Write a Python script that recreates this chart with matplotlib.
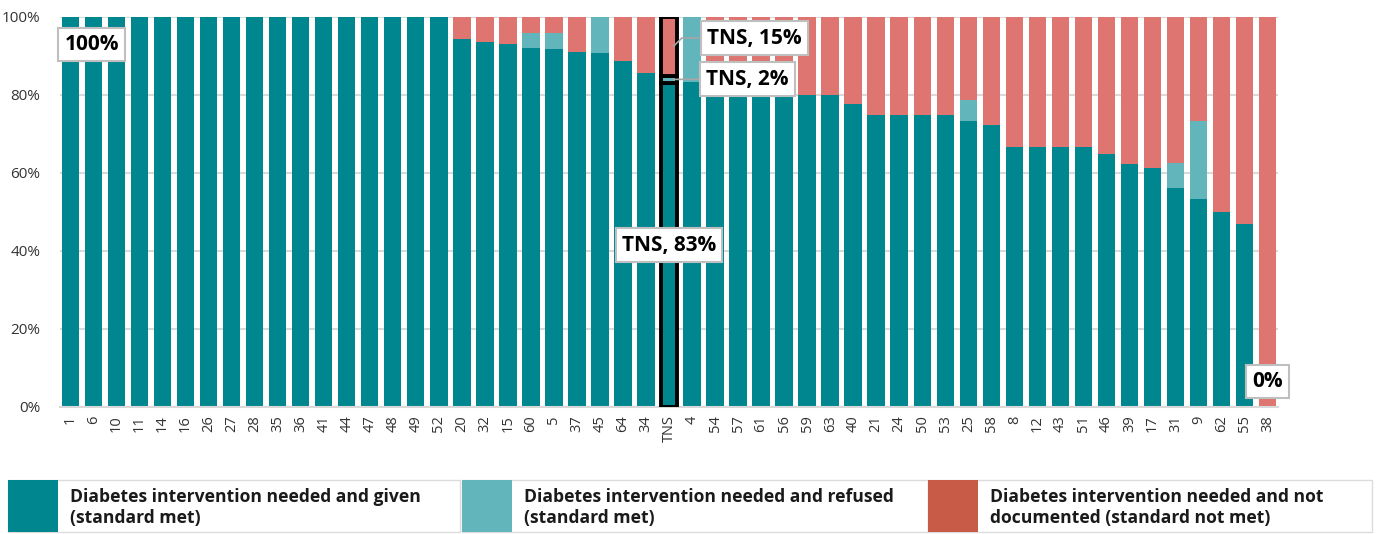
import matplotlib
matplotlib.use("Agg")
import matplotlib.pyplot as plt
from matplotlib.patches import Rectangle
import numpy as np

plt.rcParams['font.family'] = ['Open Sans', 'DejaVu Sans']

# Hospital codes, ordered by share of patients who received the intervention
sites = ["1", "6", "10", "11", "14", "16", "26", "27", "28", "35", "36", "41", "44",
         "47", "48", "49", "52", "20", "32", "15", "60", "5", "37", "45", "64", "34",
         "TNS", "4", "54", "57", "61", "56", "59", "63", "40", "21", "24", "50", "53",
         "25", "58", "8", "12", "43", "51", "46", "39", "17", "31", "9", "62", "55", "38"]

# Percent of patients: intervention needed and given
given = [100, 100, 100, 100, 100, 100, 100, 100, 100, 100, 100, 100, 100,
         100, 100, 100, 100, 94.4, 93.5, 93.1, 92.0, 91.7, 91.0, 90.7, 88.7, 85.7,
         83, 83.3, 80, 80, 80, 80, 80, 80, 77.8, 75, 75, 75, 75,
         73.4, 72.4, 66.7, 66.7, 66.7, 66.7, 64.8, 62.2, 61.4, 56.1, 53.3, 50, 46.8, 0]

# Percent of patients: intervention needed and refused
refused = [0, 0, 0, 0, 0, 0, 0, 0, 0, 0, 0, 0, 0,
           0, 0, 0, 0, 0, 0, 0, 4.0, 4.2, 0, 9.3, 0, 0,
           2, 16.7, 0, 0, 0, 0, 0, 0, 0, 0, 0, 0, 0,
           5.3, 0, 0, 0, 0, 0, 0, 0, 0, 6.4, 20.0, 0, 0, 0]

given = np.array(given)
refused = np.array(refused)
not_documented = 100 - given - refused

legend_labels = ["Diabetes intervention needed and given\n(standard met)",
                 "Diabetes intervention needed and refused\n(standard met)",
                 "Diabetes intervention needed and not\ndocumented (standard not met)"]

C_GIVEN = "#00868f"
C_REFUSED = "#63b5bc"
C_NOTDOC = "#de7571"
C_NOTDOC_KEY = "#c75b48"

W, H = 1384, 534
fig = plt.figure(figsize=(W / 100, H / 100), dpi=100)
ax = fig.add_axes([60 / W, 1 - 407 / H, (1278 - 60) / W, (407 - 17) / H])

x = np.arange(len(sites))
bw = 0.76
ax.bar(x, given, width=bw, color=C_GIVEN, zorder=2)
ax.bar(x, refused, bottom=given, width=bw, color=C_REFUSED, zorder=2)
ax.bar(x, not_documented, bottom=given + refused, width=bw, color=C_NOTDOC, zorder=2)

# Outline the national (TNS) bar
t = sites.index("TNS")
for bottom, h, c in [(0, given[t], C_GIVEN),
                     (given[t], refused[t], C_REFUSED),
                     (given[t] + refused[t], not_documented[t], C_NOTDOC)]:
    ax.bar(t, h, bottom=bottom, width=bw - 0.08, color=c, edgecolor="black",
           linewidth=2.8, zorder=3)

ax.set_xlim(-0.45, len(sites) - 0.55)
ax.set_ylim(0, 100)
ax.set_yticks(np.arange(0, 101, 20))
ax.set_yticklabels([f"{v}%" for v in range(0, 101, 20)])
ax.set_xticks(x)
ax.set_xticklabels(sites, rotation=90)
ax.tick_params(axis="y", length=0, labelsize=11, labelcolor="#333333", pad=14)
ax.tick_params(axis="x", length=0, labelsize=10.5, labelcolor="#333333", pad=6)
ax.yaxis.grid(True, color="#d9d9d9", linewidth=1.5, zorder=0)
ax.set_axisbelow(True)
for s in ["top", "right", "left"]:
    ax.spines[s].set_visible(False)
ax.spines["bottom"].set_color("#d9d9d9")
ax.spines["bottom"].set_linewidth(1.5)

box = dict(boxstyle="square,pad=0.3", facecolor="white", edgecolor="#bfbfbf", linewidth=1.5)
lab_kw = dict(fontsize=15, fontweight="bold", color="black", zorder=5)

ax.text(0.92, 93.0, f"{given[0]:.0f}%", ha="center", va="center", bbox=box, **lab_kw)
ax.text(len(sites) - 1, 6.6, f"{given[-1]:.0f}%", ha="center", va="center", bbox=box, **lab_kw)
ax.text(t, 41.5, f"TNS, {given[t]:.0f}%", ha="center", va="center", bbox=box, **lab_kw)

seg_nd = given[t] + refused[t] + not_documented[t] / 2
ax.annotate(f"TNS, {not_documented[t]:.0f}%", xy=(t + 0.2, seg_nd), xytext=(t + 1.65, 94.6),
            ha="left", va="center", bbox=box, **lab_kw,
            arrowprops=dict(arrowstyle="-", color="#a6a6a6", lw=1.2,
                            connectionstyle="angle,angleA=0,angleB=45,rad=0",
                            shrinkA=0, shrinkB=0))
seg_rf = given[t] + refused[t] / 2
ax.annotate(f"TNS, {refused[t]:.0f}%", xy=(t + 0.2, seg_rf), xytext=(t + 1.6, 84.1),
            ha="left", va="center", bbox=box, **lab_kw,
            arrowprops=dict(arrowstyle="-", color="#a6a6a6", lw=1.2,
                            shrinkA=0, shrinkB=0))

# Legend drawn as keyed boxes along the bottom
keys = [(8, 460, C_GIVEN, legend_labels[0]),
        (462, 928, C_REFUSED, legend_labels[1]),
        (928, 1372, C_NOTDOC_KEY, legend_labels[2])]
y0, y1 = 480, 532
for xs, xe, col, txt in keys:
    fig.patches.append(Rectangle((xs / W, 1 - y1 / H), (xe - xs) / W, (y1 - y0) / H,
                                 transform=fig.transFigure, facecolor="white",
                                 edgecolor="#dcdcdc", linewidth=1.0))
    fig.patches.append(Rectangle((xs / W, 1 - y1 / H), 50 / W, (y1 - y0) / H,
                                 transform=fig.transFigure, facecolor=col,
                                 edgecolor="none"))
    fig.text((xs + 62) / W, 1 - 507.5 / H, txt, ha="left", va="center",
             fontsize=12.6, fontweight="bold", color="#1a1a1a", linespacing=1.25)

fig.savefig("out.png", dpi=100)
